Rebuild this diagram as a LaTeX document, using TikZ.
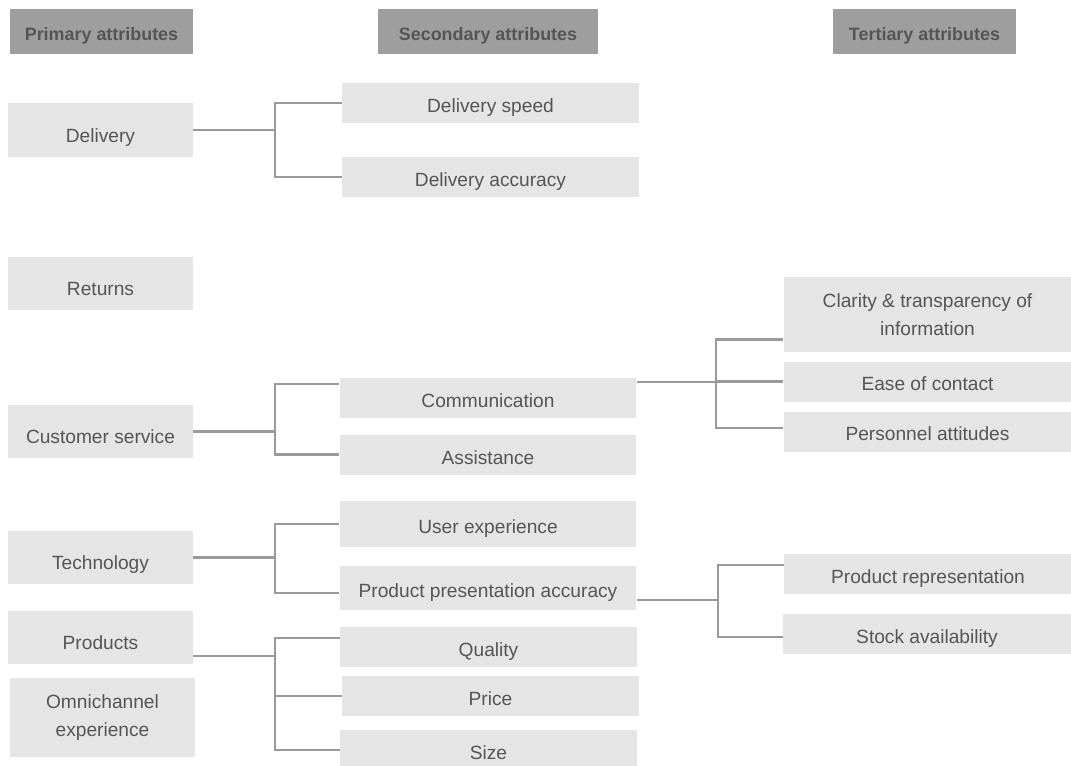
\documentclass[tikz,border=0pt]{standalone}
\usepackage{fontspec}
\setmainfont{Liberation Sans}
\usetikzlibrary{positioning,calc}
\definecolor{boxgray}{HTML}{E5E5E5}
\definecolor{headgray}{HTML}{9E9E9E}
\definecolor{txtgray}{HTML}{555555}
\definecolor{linegray}{HTML}{9A9A9A}

\begin{document}
\begin{tikzpicture}[x=0.02cm, y=-0.02cm,
  font=\fontsize{10.9}{14}\selectfont, text=txtgray,
  head/.style={fill=headgray, inner sep=0pt, minimum width=3.66cm, minimum height=0.9cm, text height=10.4pt, text depth=0pt, font=\fontsize{10.2}{14}\selectfont\bfseries},
  primbox/.style={fill=boxgray, inner sep=0pt, minimum width=3.7cm, minimum height=1.07cm},
  prim/.style={primbox, text height=14.2pt, text depth=0pt},
  secbox/.style={fill=boxgray, inner sep=0pt, minimum width=5.94cm, minimum height=0.8cm},
  sec/.style={secbox, text height=11.3pt, text depth=0pt},
  terbox/.style={fill=boxgray, inner sep=0pt, minimum width=5.76cm, minimum height=0.8cm},
  ter/.style={terbox, text height=10.4pt, text depth=0pt},
  link/.style={draw=linegray, line width=1.6pt}]
\useasboundingbox (0,0) rectangle (1071,765);
\clip (0,0) rectangle (1071,765);
% column heads
\node[head] (hprim) at (101.5,31.5) {Primary attributes};
\node[head, minimum width=4.4cm] (hsec) at (488,31.5) {Secondary attributes};
\node[head] (hter) at (924.5,31.5) {Tertiary attributes};
% primary
\node[prim] (del) at (100.5,130) {Delivery};
\node[prim] (ret) at (100.5,283.5) {Returns};
\node[prim] (cs) at (100.5,431.5) {Customer service};
\node[prim] (tech) at (100.5,557.5) {Technology};
\node[prim] (prod) at (100.5,637.5) {Products};
\node[primbox, minimum height=1.58cm, align=center] (omni) at (102.5,717.5) {Omnichannel\\[2pt] experience};
% secondary
\node[sec] (dspeed) at (490.5,103) {Delivery speed};
\node[sec] (dacc) at (490.5,177) {Delivery accuracy};
\node[sec] (comm) at (488,397.5) {Communication};
\node[sec] (assist) at (488,454.5) {Assistance};
\node[sec, minimum height=0.92cm] (ux) at (488,524) {User experience};
\node[sec, minimum height=0.88cm] (ppa) at (488,588) {Product presentation accuracy};
\node[sec] (qual) at (488.5,647) {Quality};
\node[sec] (price) at (490.5,696) {Price};
\node[sec] (size) at (488.5,750) {Size};
% tertiary
\node[terbox, minimum height=1.5cm, align=center] (clar) at (927.5,314.5) {Clarity \& transparency of\\[2pt] information};
\node[ter] (ease) at (927.5,381.5) {Ease of contact};
\node[ter] (pers) at (927.5,431.5) {Personnel attitudes};
\node[ter] (prep) at (928,574) {Product representation};
\node[ter] (stock) at (927,634) {Stock availability};
% junction columns
\coordinate (ja) at (275,0);
\coordinate (jb) at (716,0);
\coordinate (jc) at (718,0);
\draw[link] (del.east) -- (del.east -| ja) |- (dspeed.west);
\draw[link] (del.east -| ja) |- (dacc.west);
\draw[link] (cs.east) -- (cs.east -| ja) |- ([yshift=0.27cm]comm.west);
\draw[link] (cs.east -| ja) |- (assist.west);
\draw[link] (tech.east) -- (tech.east -| ja) |- (ux.west);
\draw[link] (tech.east -| ja) |- ([yshift=-0.1cm]ppa.west);
\coordinate (pe) at ([yshift=-0.37cm]prod.east);
\draw[link] (pe) -- (pe -| ja) |- ([yshift=0.18cm]qual.west);
\draw[link] (pe -| ja) |- (price.west);
\draw[link] (pe -| ja) |- (size.west);
\coordinate (ce) at ([yshift=0.31cm]comm.east);
\draw[link] (ce) -- (ce -| jb) |- ([yshift=-0.5cm]clar.west);
\draw[link] (ce -| jb) |- (ease.west);
\draw[link] (ce -| jb) |- ([yshift=0.07cm]pers.west);
\coordinate (pp) at ([yshift=-0.24cm]ppa.east);
\draw[link] (pp) -- (pp -| jc) |- ([yshift=0.18cm]prep.west);
\draw[link] (pp -| jc) |- ([yshift=-0.06cm]stock.west);
\end{tikzpicture}
\end{document}
